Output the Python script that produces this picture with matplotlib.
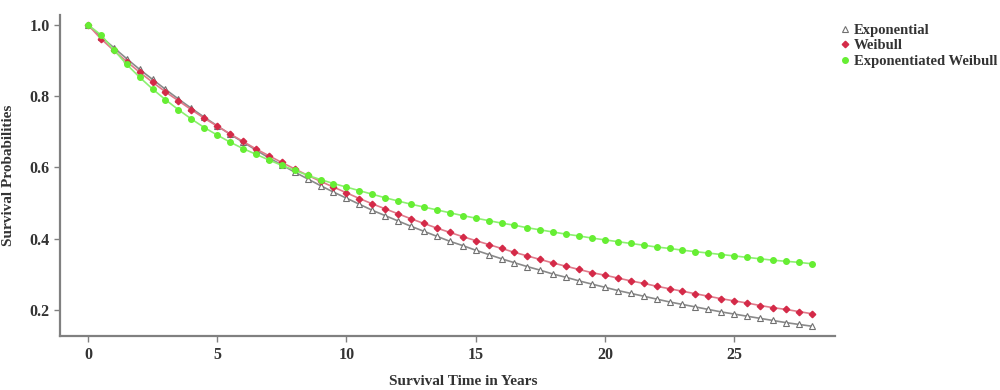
"""
survival curves: exponential, weibull, exponentiated weibull
"""
import numpy as np
import matplotlib
matplotlib.use("Agg")
import matplotlib.pyplot as plt

# years, every half year from 0 to 28
years = np.arange(0, 28.5, 0.5)

exponential = [
    1.000, 0.967, 0.936, 0.905, 0.875, 0.847, 0.819, 0.792, 0.766, 0.741,
    0.717, 0.693, 0.671, 0.649, 0.627, 0.607, 0.587, 0.568, 0.549, 0.531,
    0.514, 0.497, 0.480, 0.465, 0.450, 0.435, 0.421, 0.407, 0.393, 0.381,
    0.368, 0.356, 0.344, 0.333, 0.322, 0.312, 0.301, 0.292, 0.282, 0.273,
    0.264, 0.255, 0.247, 0.239, 0.231, 0.223, 0.216, 0.209, 0.202, 0.195,
    0.189, 0.183, 0.177, 0.171, 0.165, 0.160, 0.155,
]
weibull = [
    1.000, 0.961, 0.928, 0.897, 0.867, 0.839, 0.812, 0.787, 0.762, 0.738,
    0.716, 0.694, 0.673, 0.652, 0.633, 0.614, 0.596, 0.578, 0.561, 0.545,
    0.529, 0.513, 0.498, 0.484, 0.470, 0.456, 0.443, 0.430, 0.418, 0.406,
    0.395, 0.384, 0.373, 0.362, 0.352, 0.342, 0.332, 0.323, 0.314, 0.305,
    0.298, 0.290, 0.282, 0.275, 0.267, 0.260, 0.253, 0.246, 0.239, 0.232,
    0.226, 0.220, 0.213, 0.207, 0.202, 0.196, 0.190,
]
exp_weibull = [
    1.000, 0.972, 0.930, 0.889, 0.853, 0.820, 0.790, 0.762, 0.736, 0.712,
    0.691, 0.671, 0.653, 0.637, 0.621, 0.606, 0.592, 0.578, 0.566, 0.555,
    0.545, 0.535, 0.525, 0.515, 0.506, 0.497, 0.489, 0.481, 0.473, 0.465,
    0.458, 0.451, 0.444, 0.438, 0.431, 0.425, 0.419, 0.413, 0.408, 0.402,
    0.397, 0.392, 0.387, 0.382, 0.377, 0.373, 0.368, 0.364, 0.360, 0.356,
    0.352, 0.348, 0.344, 0.340, 0.337, 0.334, 0.330,
]

xticks = [0, 5, 10, 15, 20, 25]
yticks = [0.2, 0.4, 0.6, 0.8, 1.0]

plt.rcParams['font.family'] = ['Liberation Serif', 'DejaVu Serif']
plt.rcParams['font.weight'] = 'bold'

fig = plt.figure(figsize=(10, 3.9), dpi=100)
ax = fig.add_axes([0.06, 0.138, 0.775, 0.824])

ax.plot(years, exponential, color="#8a8a8a", lw=1.2, marker="^", ms=4,
        mfc="white", mec="#707070", mew=0.8, label="Exponential")
ax.plot(years, weibull, color="#e07a8a", lw=1.2, marker="D", ms=3.3,
        mfc="#d42a48", mec="#d42a48", label="Weibull")
ax.plot(years, exp_weibull, color="#8cf070", lw=1.2, marker="o", ms=4,
        mfc="#66ee33", mec="#66ee33", label="Exponentiated Weibull")

ax.set_xlim(-1.08, 28.9)
ax.set_ylim(0.127, 1.028)
ax.set_xticks(xticks)
ax.set_yticks(yticks)
ax.set_yticklabels([f"{v:.1f}" for v in yticks])

for side in ("top", "right"):
    ax.spines[side].set_visible(False)
for side in ("left", "bottom"):
    ax.spines[side].set_color("#808080")
    ax.spines[side].set_linewidth(1.6)
ax.tick_params(colors="#808080", labelcolor="#333333", labelsize=11.5,
               length=4, width=1)

ax.set_xlabel("Survival Time in Years", fontsize=11, fontweight="bold",
              color="#333333", labelpad=10)
ax.xaxis.set_label_coords(0.52, -0.12)
ax.set_ylabel("Survival Probabilities", fontsize=11, fontweight="bold",
              color="#333333", labelpad=10)

ax.legend(loc="upper left", bbox_to_anchor=(1.0, 0.99), frameon=False,
          fontsize=10.5, handlelength=0.6, handletextpad=0.3,
          labelspacing=0.15, borderaxespad=0, labelcolor="#333333")
for h in ax.get_legend().get_lines():
    h.set_linestyle("none")

fig.savefig("out.png", dpi=100)
